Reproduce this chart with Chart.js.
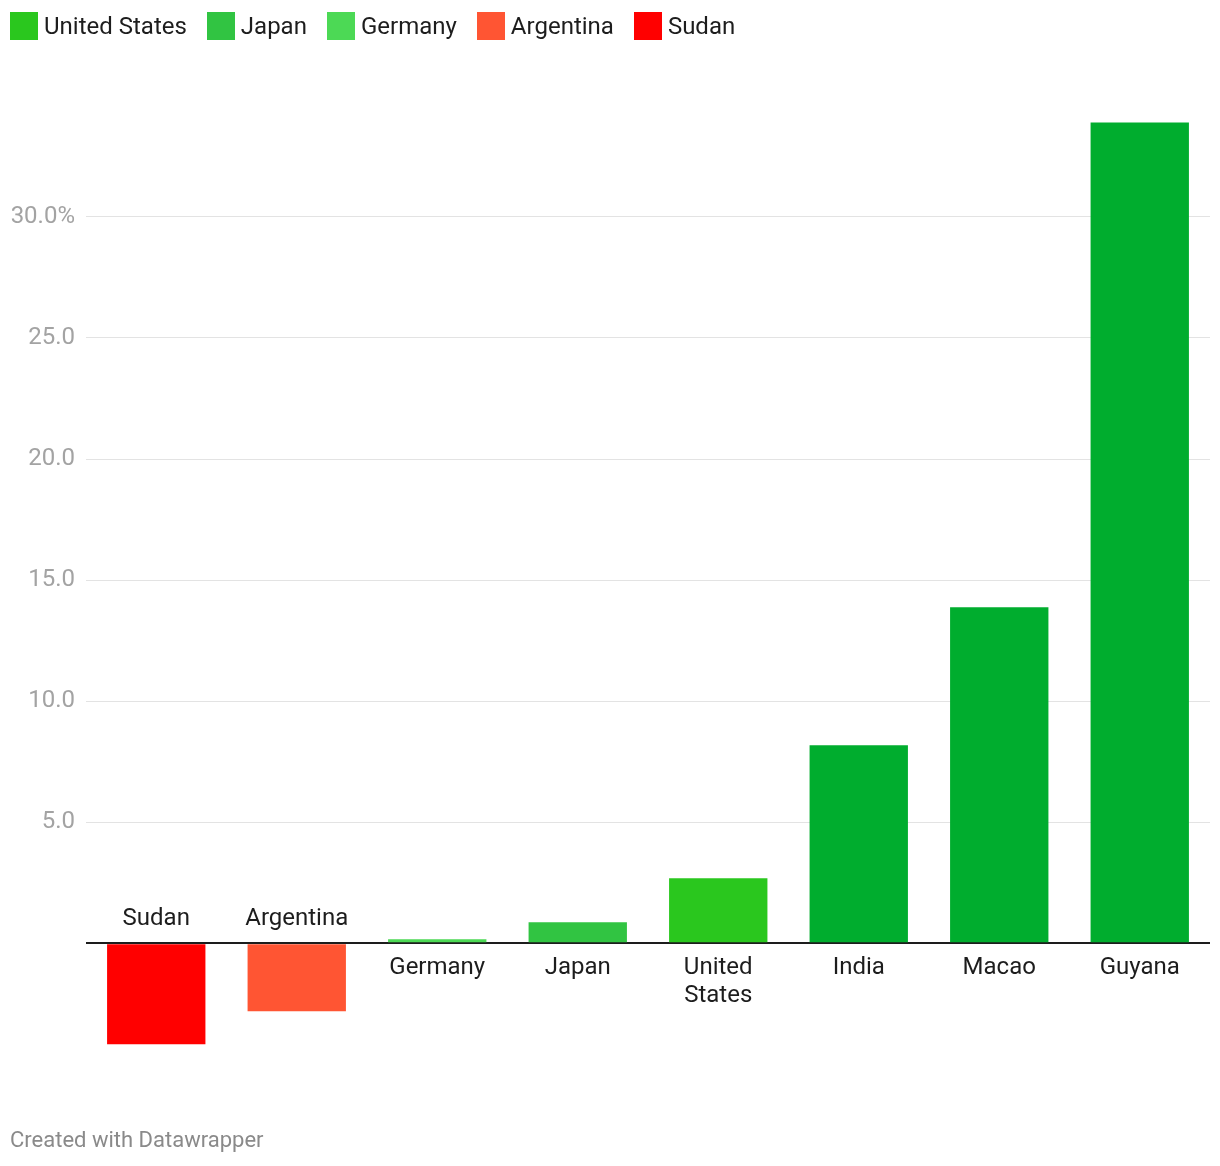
<!DOCTYPE html>
<html>
<head>
<meta charset="utf-8">
<script src="https://cdn.jsdelivr.net/npm/chart.js@4/dist/chart.umd.min.js"></script>
<style>
  html, body { margin: 0; padding: 0; background: #fff; }
  #wrap { position: relative; width: 1220px; height: 1166px; font-family: Roboto, "Noto Sans", sans-serif; }
  #c { position: absolute; left: 0; top: 0; }
  #legend { position: absolute; left: 10px; top: 12px; display: flex; align-items: center; font-size: 24px; color: #1d1d1d; line-height: 28px; }
  .item { display: flex; align-items: center; margin-right: 20px; }
  .sw { width: 28px; height: 28px; margin-right: 6px; }
  #footer { position: absolute; left: 10px; top: 1126px; font-size: 22px; color: #8a8a8a; line-height: 28px; }
</style>
</head>
<body>
<div id="wrap">
  <canvas id="c" width="1220" height="1166"></canvas>
  <div id="legend"></div>
  <div id="footer">Created with Datawrapper</div>
</div>
<script>
const categories = ['Sudan', 'Argentina', 'Germany', 'Japan', 'United States', 'India', 'Macao', 'Guyana'];
const values = [-4.17, -2.81, 0.17, 0.87, 2.69, 8.18, 13.88, 33.9];
const barColors = ['#ff0000', '#ff5533', '#4cd955', '#31c442', '#2ac71e', '#00ad2e', '#00ad2e', '#00ad2e'];
const legendLabels = ['United States', 'Japan', 'Germany', 'Argentina', 'Sudan'];
const legendColors = ['#2ac71e', '#31c442', '#4cd955', '#ff5533', '#ff0000'];
const yTicks = [0, 5, 10, 15, 20, 25, 30];

const legendEl = document.getElementById('legend');
legendLabels.forEach((l, i) => {
  const it = document.createElement('div'); it.className = 'item';
  const sw = document.createElement('div'); sw.className = 'sw'; sw.style.background = legendColors[i];
  const t = document.createElement('span'); t.textContent = l;
  it.appendChild(sw); it.appendChild(t); legendEl.appendChild(it);
});

const labelPlugin = {
  id: 'catLabels',
  afterDatasetsDraw(chart) {
    const ctx = chart.ctx;
    const xs = chart.scales.x, ys = chart.scales.y;
    const y0 = ys.getPixelForValue(0);
    const maxW = xs.width / categories.length * 0.8;
    ctx.save();
    ctx.font = '24px Roboto, "Noto Sans", sans-serif';
    ctx.fillStyle = '#1d1d1d';
    ctx.textAlign = 'center';
    ctx.textBaseline = 'middle';
    categories.forEach((c, i) => {
      const x = xs.getPixelForValue(i);
      const words = c.split(' ');
      const lines = [];
      let cur = '';
      words.forEach(w => {
        const test = cur ? cur + ' ' + w : w;
        if (cur && ctx.measureText(test).width > maxW) { lines.push(cur); cur = w; } else { cur = test; }
      });
      if (cur) lines.push(cur);
      const lh = 28;
      if (values[i] < 0) {
        lines.forEach((ln, k) => ctx.fillText(ln, x, y0 - 24 - (lines.length - 1 - k) * lh));
      } else {
        lines.forEach((ln, k) => ctx.fillText(ln, x, y0 + 25 + k * lh));
      }
    });
    ctx.restore();
  }
};

new Chart(document.getElementById('c'), {
  type: 'bar',
  data: {
    labels: categories,
    datasets: [{ data: values, backgroundColor: barColors, borderWidth: 0, categoryPercentage: 1, barPercentage: 0.7 }]
  },
  options: {
    responsive: false,
    animation: false,
    devicePixelRatio: 1,
    layout: { padding: { top: 120, bottom: 121, right: 10, left: 0 } },
    plugins: { legend: { display: false }, tooltip: { enabled: false } },
    scales: {
      x: { display: false },
      y: {
        min: -4.2, max: 34,
        afterBuildTicks(s) { s.ticks = yTicks.map(v => ({ value: v })); },
        afterFit(s) { s.width = 86; },
        border: { display: false },
        grid: {
          drawTicks: false,
          color: ctx => ctx.tick && ctx.tick.value === 0 ? '#1d1d1d' : '#e3e3e3',
          lineWidth: ctx => ctx.tick && ctx.tick.value === 0 ? 2 : 1
        },
        ticks: {
          padding: 11,
          color: '#a3a3a3',
          font: { family: 'Roboto, "Noto Sans", sans-serif', size: 24 },
          callback: v => v === 0 ? '' : (v === 30 ? '30.0%' : v.toFixed(1))
        }
      }
    }
  },
  plugins: [labelPlugin]
});
</script>
</body>
</html>
